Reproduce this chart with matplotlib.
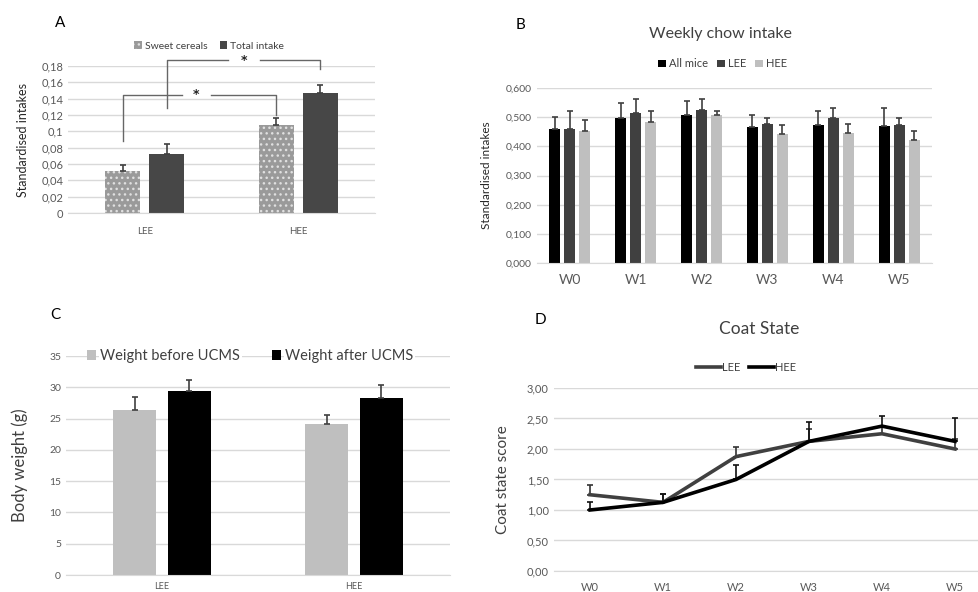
import numpy as np
import matplotlib.pyplot as plt
from matplotlib.ticker import FuncFormatter

plt.rcParams['font.family'] = ['Lato', 'DejaVu Sans']

# panel A
groups_a = ['LEE', 'HEE']
sweet = [0.051, 0.108]
sweet_err = [0.008, 0.008]
total = [0.072, 0.147]
total_err = [0.012, 0.010]

# panel B
weeks = ['W0', 'W1', 'W2', 'W3', 'W4', 'W5']
chow_all = [0.459, 0.498, 0.506, 0.467, 0.472, 0.471]
chow_all_err = [0.040, 0.049, 0.050, 0.039, 0.050, 0.062]
chow_lee = [0.461, 0.516, 0.525, 0.475, 0.497, 0.473]
chow_lee_err = [0.059, 0.047, 0.038, 0.023, 0.036, 0.025]
chow_hee = [0.451, 0.482, 0.507, 0.441, 0.447, 0.423]
chow_hee_err = [0.038, 0.040, 0.015, 0.031, 0.028, 0.030]

# panel C
groups_c = ['LEE', 'HEE']
w_before = [26.3, 24.1]
w_before_err = [2.2, 1.4]
w_after = [29.4, 28.3]
w_after_err = [1.7, 2.0]

# panel D
coat_lee = [1.25, 1.125, 1.875, 2.125, 2.25, 2.0]
coat_lee_err = [0.16, 0.14, 0.16, 0.21, 0.12, 0.16]
coat_hee = [1.0, 1.125, 1.5, 2.125, 2.375, 2.125]
coat_hee_err = [0.13, 0.14, 0.24, 0.32, 0.16, 0.38]

grid_c = '#d9d9d9'
tick_c = '#595959'


def comma(fmt):
    return FuncFormatter(lambda v, p: (fmt % v).replace('.', ','))


def style(ax, fs):
    for s in ['top', 'right', 'left']:
        ax.spines[s].set_visible(False)
    ax.spines['bottom'].set_color(grid_c)
    ax.yaxis.grid(True, color=grid_c, lw=1)
    ax.set_axisbelow(True)
    ax.tick_params(length=0, labelsize=fs, colors=tick_c)


def up_err(ax, x, y, e, color='#404040'):
    ax.errorbar(x, y, yerr=[np.zeros(len(e)), e], fmt='none', ecolor=color,
                elinewidth=1.2, capsize=2.5, capthick=1.2, zorder=3)


fig = plt.figure(figsize=(9.79, 5.92), dpi=100)

# ---- A
axA = fig.add_axes([0.0695, 0.6402, 0.3136, 0.2483])
x = np.arange(len(groups_a))
bw = 0.228
plt.rcParams['hatch.linewidth'] = 1.0
axA.bar(x - 0.143, sweet, bw, color='#9a9a9a', edgecolor='#e0e0e0', hatch='...', lw=0,
        label='Sweet cereals')
axA.bar(x + 0.143, total, bw, color='#474747', label='Total intake')
up_err(axA, x - 0.143, sweet, sweet_err)
up_err(axA, x + 0.143, total, total_err)
axA.set_xlim(-0.5, 1.5)
axA.set_ylim(0, 0.18)
axA.set_yticks(np.arange(0, 0.181, 0.02))
axA.yaxis.set_major_formatter(FuncFormatter(lambda v, p: ('%g' % round(v, 2)).replace('.', ',')))
axA.set_xticks(x)
axA.set_xticklabels(groups_a)
style(axA, 8)
axA.tick_params(axis='x', labelsize=7, pad=10)
axA.set_ylabel('Standardised intakes', fontsize=9, color='#262626', labelpad=9)
axA.legend(loc='lower center', bbox_to_anchor=(0.46, 1.04), ncol=2, frameon=False,
           fontsize=7.5, handlelength=0.7, handleheight=0.7, columnspacing=1.2,
           handletextpad=0.3, labelcolor='#404040')
# significance brackets
bc = '#666666'
kw = dict(color=bc, lw=1, clip_on=False)
axA.plot([x[0] - 0.143, x[0] - 0.143, 0.24], [0.088, 0.145, 0.145], **kw)
axA.plot([0.43, x[1] - 0.143, x[1] - 0.143], [0.145, 0.145, 0.12], **kw)
axA.text(0.335, 0.145, '*', ha='center', va='center', fontsize=9, color='#222222',
         family='DejaVu Sans', fontweight='bold')
axA.plot([x[0] + 0.143, x[0] + 0.143, 0.54], [0.128, 0.187, 0.187], **kw)
axA.plot([0.75, x[1] + 0.143, x[1] + 0.143], [0.187, 0.187, 0.176], **kw)
axA.text(0.645, 0.187, '*', ha='center', va='center', fontsize=9, color='#222222',
         family='DejaVu Sans', fontweight='bold')
fig.text(0.056, 0.961, 'A', fontsize=11, va='center')

# ---- B
axB = fig.add_axes([0.5485, 0.5557, 0.4035, 0.2956])
x = np.arange(len(weeks))
bw = 0.167
off = 0.228
axB.bar(x - off, chow_all, bw, color='#000000', label='All mice')
axB.bar(x, chow_lee, bw, color='#404040', label='LEE')
axB.bar(x + off, chow_hee, bw, color='#bfbfbf', label='HEE')
up_err(axB, x - off, chow_all, chow_all_err)
up_err(axB, x, chow_lee, chow_lee_err)
up_err(axB, x + off, chow_hee, chow_hee_err)
axB.set_xlim(-0.5, 5.5)
axB.set_ylim(0, 0.6)
axB.set_yticks(np.arange(0, 0.601, 0.1))
axB.yaxis.set_major_formatter(comma('%.3f'))
axB.set_xticks(x)
axB.set_xticklabels(weeks)
style(axB, 7.5)
axB.tick_params(axis='x', labelsize=10, pad=8)
axB.set_ylabel('Standardised intakes', fontsize=8.5, color='#262626', labelpad=10)
axB.legend(loc='lower center', bbox_to_anchor=(0.47, 1.05), ncol=3, frameon=False,
           fontsize=8, handlelength=0.7, handleheight=0.7, columnspacing=0.8,
           handletextpad=0.3, labelcolor='#404040')
axB.set_title('Weekly chow intake', fontsize=11.5, color='#404040', pad=36, x=0.465)
fig.text(0.527, 0.958, 'B', fontsize=11, va='center')

# ---- C
axC = fig.add_axes([0.0674, 0.0287, 0.3922, 0.3699])
x = np.arange(len(groups_c))
bw = 0.224
off = 0.143
axC.bar(x - off, w_before, bw, color='#bfbfbf', label='Weight before UCMS')
axC.bar(x + off, w_after, bw, color='#000000', label='Weight after UCMS')
up_err(axC, x - off, w_before, w_before_err)
up_err(axC, x + off, w_after, w_after_err)
axC.set_xlim(-0.5, 1.5)
axC.set_ylim(0, 35)
axC.set_yticks(np.arange(0, 36, 5))
axC.set_xticks(x)
axC.set_xticklabels(groups_c)
style(axC, 7.5)
axC.tick_params(axis='x', labelsize=6.5, pad=5)
axC.set_ylabel('Body weight (g)', fontsize=12, color='#404040', labelpad=15)
lg = axC.legend(loc='center', bbox_to_anchor=(0.48, 1.0), ncol=2, frameon=False,
                fontsize=10.5, handlelength=0.6, handleheight=0.6, columnspacing=2.2,
                handletextpad=0.3, labelcolor='#404040', borderpad=0.1)
for t in lg.get_texts():
    t.set_bbox(dict(facecolor='white', edgecolor='none', pad=1))
fig.text(0.051, 0.468, 'C', fontsize=11, va='center')

# ---- D
axD = fig.add_axes([0.5654, 0.0355, 0.4474, 0.3091])
x = np.arange(len(weeks))
up_err(axD, x, coat_lee, coat_lee_err, color='#333333')
up_err(axD, x, coat_hee, coat_hee_err, color='#111111')
axD.plot(x, coat_lee, color='#404040', lw=2.6, label='LEE', zorder=4)
axD.plot(x, coat_hee, color='#000000', lw=2.6, label='HEE', zorder=5)
axD.set_xlim(-0.5, 5.5)
axD.set_ylim(0, 3)
axD.set_yticks(np.arange(0, 3.01, 0.5))
axD.yaxis.set_major_formatter(comma('%.2f'))
axD.set_xticks(x)
axD.set_xticklabels(weeks)
style(axD, 8)
axD.tick_params(axis='x', labelsize=8, pad=8)
axD.set_ylabel('Coat state score', fontsize=11, color='#404040', labelpad=12)
axD.legend(loc='lower center', bbox_to_anchor=(0.44, 1.03), ncol=2, frameon=False,
           fontsize=8, handlelength=2.2, columnspacing=0.8, handletextpad=0.1,
           labelcolor='#404040')
fig.text(0.775, 0.444, 'Coat State', fontsize=12.5, color='#404040', ha='center', va='center')
fig.text(0.546, 0.459, 'D', fontsize=11, va='center')

fig.savefig('out.png', dpi=100)
